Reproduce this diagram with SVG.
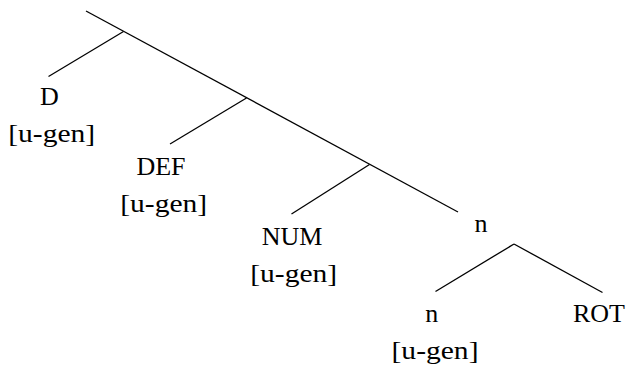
<svg xmlns="http://www.w3.org/2000/svg" width="628" height="366" viewBox="0 0 628 366">
<style>
.e{stroke:#000;stroke-width:1.3;fill:none;stroke-linecap:butt}
text{font-family:"Liberation Serif","DejaVu Serif",serif;font-size:26px;fill:#000;text-anchor:middle}
</style>
<rect width="628" height="366" fill="#fff"/>
<g id="connectors">
<line class="e" x1="86" y1="11" x2="458" y2="212"/>
<line class="e" x1="123.5" y1="31.5" x2="48.5" y2="76.5"/>
<line class="e" x1="246.5" y1="98" x2="170" y2="144"/>
<line class="e" x1="369.5" y1="164.5" x2="291.5" y2="214"/>
<line class="e" x1="514" y1="244" x2="435.5" y2="291.5"/>
<line class="e" x1="514" y1="244" x2="602.5" y2="292.5"/>
</g>
<g id="node-D">
<text x="49.5" y="104.5">D</text>
<text x="51.7" y="141.7" textLength="87" lengthAdjust="spacingAndGlyphs">[u-gen]</text>
</g>
<g id="node-DEF">
<text x="161" y="174.5">DEF</text>
<text x="163.7" y="211.7" textLength="87" lengthAdjust="spacingAndGlyphs">[u-gen]</text>
</g>
<g id="node-NUM">
<text x="292" y="244.5">NUM</text>
<text x="293.7" y="281.7" textLength="87" lengthAdjust="spacingAndGlyphs">[u-gen]</text>
</g>
<g id="node-nP">
<text x="481" y="232.3">n</text>
</g>
<g id="node-n">
<text x="431.7" y="321.7">n</text>
<text x="435" y="358.7" textLength="87" lengthAdjust="spacingAndGlyphs">[u-gen]</text>
</g>
<g id="node-ROT">
<text x="599" y="321.7">ROT</text>
</g>
</svg>
